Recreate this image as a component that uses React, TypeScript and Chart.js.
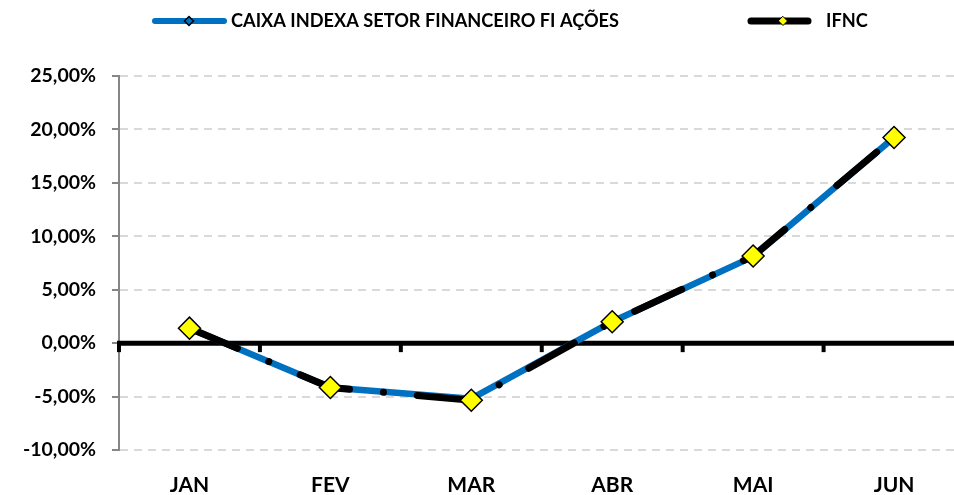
import React, { useEffect, useRef } from "react";
import { Chart, registerables } from "chart.js";

Chart.register(...registerables);

const CATEGORIES = ["JAN", "FEV", "MAR", "ABR", "MAI", "JUN"];
const CAIXA_VALUES = [1.4, -4.15, -5.2, 2.0, 8.1, 19.25];
const IFNC_VALUES = [1.4, -4.15, -5.35, 2.0, 8.15, 19.25];
const SERIES_NAMES = ["CAIXA INDEXA SETOR FINANCEIRO FI AÇÕES", "IFNC"];
const Y_MIN = -10;
const Y_MAX = 25;
const Y_STEP = 5;

const FONT = "Lato, 'DejaVu Sans', sans-serif";
const BLUE = "#0070C0";

const fmt = (v: number) => v.toFixed(2).replace(".", ",") + "%";

function diamond(ctx: CanvasRenderingContext2D, x: number, y: number, r: number, fill: string, lw: number) {
  ctx.beginPath();
  ctx.moveTo(x, y - r);
  ctx.lineTo(x + r, y);
  ctx.lineTo(x, y + r);
  ctx.lineTo(x - r, y);
  ctx.closePath();
  ctx.fillStyle = fill;
  ctx.fill();
  ctx.lineWidth = lw;
  ctx.strokeStyle = "#000";
  ctx.stroke();
}

const zeroLinePlugin = {
  id: "zeroLine",
  beforeDatasetsDraw(chart: any) {
    const { ctx, chartArea, scales } = chart;
    const y0 = scales.y.getPixelForValue(0);
    const n = CATEGORIES.length;
    const w = chartArea.width / n;
    ctx.save();
    ctx.strokeStyle = "#000";
    ctx.lineWidth = 5;
    ctx.beginPath();
    ctx.moveTo(chartArea.left - 2, y0);
    ctx.lineTo(chartArea.right, y0);
    ctx.stroke();
    ctx.lineWidth = 4;
    for (let i = 0; i <= n; i++) {
      const px = chartArea.left + i * w;
      ctx.beginPath();
      ctx.moveTo(px, y0);
      ctx.lineTo(px, y0 + 9);
      ctx.stroke();
    }
    ctx.restore();
  },
};

const legendPlugin = {
  id: "customLegend",
  afterDraw(chart: any) {
    const { ctx } = chart;
    const ly = 21;
    ctx.save();
    ctx.lineCap = "round";
    // series 1
    ctx.strokeStyle = BLUE;
    ctx.lineWidth = 6;
    ctx.beginPath();
    ctx.moveTo(155, ly);
    ctx.lineTo(224, ly);
    ctx.stroke();
    diamond(ctx, 189, ly, 4.5, BLUE, 1.5);
    // series 2
    ctx.strokeStyle = "#000";
    ctx.lineWidth = 7;
    ctx.beginPath();
    ctx.moveTo(751, ly);
    ctx.lineTo(808, ly);
    ctx.stroke();
    diamond(ctx, 783, ly, 4.5, "#FFFF00", 1);
    ctx.fillStyle = "#000";
    ctx.font = `bold 18.2px ${FONT}`;
    ctx.textBaseline = "middle";
    ctx.textAlign = "left";
    ctx.fillText(SERIES_NAMES[0], 231, ly);
    ctx.fillText(SERIES_NAMES[1], 826, ly);
    ctx.restore();
  },
};

export default function App() {
  const ref = useRef<HTMLCanvasElement>(null);

  useEffect(() => {
    if (!ref.current) return;
    const chart = new Chart(ref.current, {
      type: "line",
      data: {
        labels: CATEGORIES,
        datasets: [
          {
            label: SERIES_NAMES[0],
            data: CAIXA_VALUES,
            borderColor: BLUE,
            backgroundColor: BLUE,
            borderWidth: 6.5,
            tension: 0,
            pointStyle: "rectRot",
            pointRadius: 5,
            pointBackgroundColor: BLUE,
            pointBorderColor: "#000",
            pointBorderWidth: 1.5,
            order: 1,
          },
          {
            label: SERIES_NAMES[1],
            data: IFNC_VALUES,
            borderColor: "#000",
            backgroundColor: "#FFFF00",
            borderWidth: 7,
            borderDash: [52, 34, 0.1, 34],
            borderCapStyle: "round",
            tension: 0,
            pointStyle: "rectRot",
            pointRadius: 11,
            pointHoverRadius: 11,
            pointBackgroundColor: "#FFFF00",
            pointBorderColor: "#000",
            pointBorderWidth: 1.5,
            order: 0,
          },
        ],
      },
      options: {
        responsive: false,
        animation: false,
        devicePixelRatio: 1,
        layout: { padding: { left: 0, right: 5, top: 76, bottom: 0 } },
        plugins: { legend: { display: false }, tooltip: { enabled: false } },
        scales: {
          x: {
            offset: true,
            grid: { display: false, drawTicks: false, tickLength: 0 },
            border: { display: false },
            ticks: {
              color: "#000",
              font: { family: FONT, size: 21, weight: "bold" },
              padding: 23,
              maxRotation: 0,
            },
            afterFit: (s: any) => {
              s.height = 45;
            },
          },
          y: {
            min: Y_MIN,
            max: Y_MAX,
            grid: {
              color: (c: any) => (c.tick && c.tick.value === 0 ? "rgba(0,0,0,0)" : "#d9d9d9"),
              lineWidth: 2,
              tickLength: 7,
              tickColor: "#868686",
              tickWidth: 2,
              tickBorderDash: [],
            },
            border: { display: true, color: "#868686", width: 2, dash: [8, 6] },
            ticks: {
              stepSize: Y_STEP,
              color: "#000",
              font: { family: FONT, size: 19.5, weight: "bold" },
              padding: 16,
              callback: (v: any) => fmt(Number(v)),
            },
            afterFit: (s: any) => {
              s.width = 119;
            },
          },
        },
      },
      plugins: [zeroLinePlugin, legendPlugin],
    });
    return () => chart.destroy();
  }, []);

  return (
    <div
      style={{
        position: "fixed",
        left: 0,
        top: 0,
        width: 954,
        height: 495,
        overflow: "hidden",
        background: "#fff",
      }}
    >
      <canvas ref={ref} width={977} height={495} style={{ display: "block", width: 977, height: 495 }} />
    </div>
  );
}
